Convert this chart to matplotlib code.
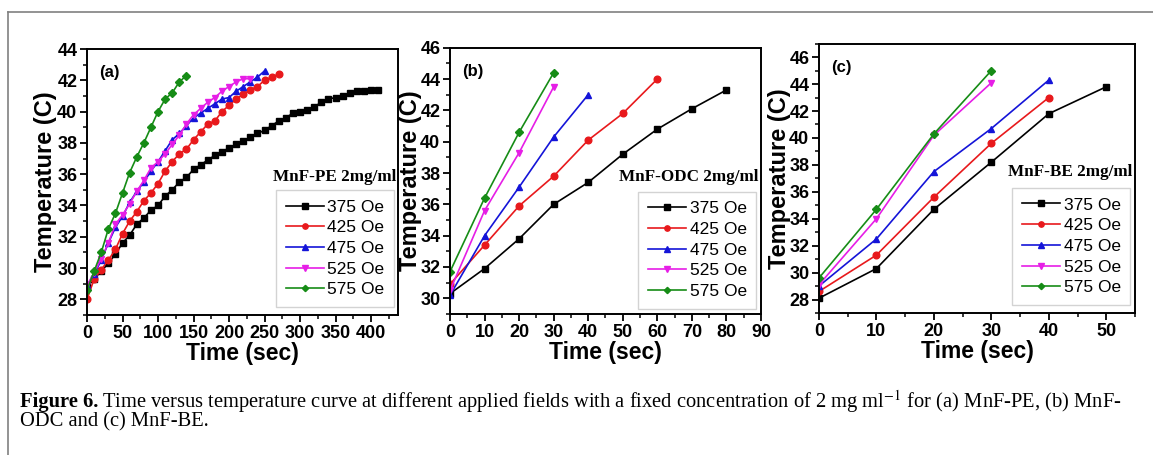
import numpy as np
import matplotlib
matplotlib.use('Agg')
import matplotlib.pyplot as plt
from matplotlib.ticker import MultipleLocator
from matplotlib.lines import Line2D

plt.rcParams['font.family'] = ['Liberation Sans', 'DejaVu Sans']
plt.rcParams['mathtext.fontset'] = 'stix'

fields = ['375 Oe', '425 Oe', '475 Oe', '525 Oe', '575 Oe']
colors = ['black', '#e8191c', '#1414d8', '#e61ee6', '#168c16']
markers = ['s', 'o', '^', 'v', 'D']

# (a) MnF-PE, 10 s steps
pe_375 = [28.8, 29.3, 29.8, 30.3, 30.9, 31.6, 32.1, 32.8, 33.2, 33.7, 34.0, 34.6, 35.0, 35.5,
          35.8, 36.3, 36.6, 36.9, 37.2, 37.4, 37.7, 37.9, 38.1, 38.4, 38.6, 38.8, 39.1, 39.4,
          39.6, 39.9, 40.0, 40.1, 40.3, 40.6, 40.8, 40.9, 41.0, 41.2, 41.3, 41.3, 41.4, 41.4]
pe_425 = [28.0, 29.3, 29.9, 30.5, 31.2, 32.2, 33.0, 33.6, 34.3, 34.8, 35.4, 36.2, 36.8, 37.3,
          37.6, 38.2, 38.7, 39.2, 39.4, 40.0, 40.4, 40.8, 41.1, 41.4, 41.6, 42.0, 42.2, 42.4]
pe_475 = [28.9, 29.6, 30.5, 31.6, 32.6, 33.3, 34.2, 34.9, 35.5, 36.2, 36.8, 37.5, 38.2, 38.6,
          39.1, 39.6, 39.9, 40.2, 40.5, 40.8, 40.9, 41.3, 41.6, 41.9, 42.2, 42.6]
pe_525 = [28.9, 29.7, 30.6, 31.6, 32.8, 33.4, 34.1, 34.9, 35.6, 36.4, 36.8, 37.3, 37.9, 38.5,
          39.2, 39.8, 40.2, 40.6, 40.9, 41.3, 41.6, 41.9, 42.1, 42.1]
pe_575 = [28.6, 29.8, 31.0, 32.5, 33.5, 34.8, 36.1, 37.1, 38.0, 39.0, 40.0, 40.8, 41.2, 41.9, 42.3]

# (b) MnF-ODC
odc_375 = [30.3, 31.9, 33.8, 36.0, 37.4, 39.2, 40.8, 42.1, 43.3]
odc_425 = [30.9, 33.4, 35.9, 37.8, 40.1, 41.8, 44.0]
odc_475 = [30.2, 34.0, 37.1, 40.3, 43.0]
odc_525 = [30.5, 35.6, 39.3, 43.5]
odc_575 = [31.7, 36.4, 40.6, 44.4]

# (c) MnF-BE
be_375 = [28.1, 30.3, 34.7, 38.2, 41.8, 43.8]
be_425 = [28.6, 31.3, 35.6, 39.6, 43.0]
be_475 = [29.0, 32.5, 37.5, 40.7, 44.3]
be_525 = [29.1, 34.0, 40.2, 44.1]
be_575 = [29.6, 34.7, 40.3, 45.0]

panels = [
    dict(data=[pe_375, pe_425, pe_475, pe_525, pe_575], label='(a)', title='MnF-PE 2mg/ml',
         pos=[0.0755, 0.3077, 0.2697, 0.5846], xlim=(0, 438), ylim=(27, 44),
         xmaj=50, xmin=25, ymaj=2, ymin=1, leg=(0.987, 0.03), ty=0.52, ylp=0),
    dict(data=[odc_375, odc_425, odc_475, odc_525, odc_575], label='(b)', title='MnF-ODC 2mg/ml',
         pos=[0.3903, 0.3099, 0.2697, 0.5853], xlim=(0, 90), ylim=(29, 46),
         xmaj=10, xmin=5, ymaj=2, ymin=1, leg=(0.985, 0.02), ty=0.515, ylp=-1),
    dict(data=[be_375, be_425, be_475, be_525, be_575], label='(c)', title='MnF-BE 2mg/ml',
         pos=[0.7103, 0.3121, 0.2741, 0.5919], xlim=(0, 55), ylim=(27, 47),
         xmaj=10, xmin=5, ymaj=2, ymin=1, leg=(0.985, 0.03), ty=0.525, ylp=-1),
]

fig = plt.figure(figsize=(11.53, 4.55), dpi=100)

# outer frame (left and top edges only)
fig.add_artist(Line2D([8/1153, 1], [1 - 12/455, 1 - 12/455], color='#808080', lw=1.2))
fig.add_artist(Line2D([8/1153, 8/1153], [0, 1 - 12/455], color='#808080', lw=1.2))

for p in panels:
    ax = fig.add_axes(p['pos'])
    for series, c, m, name in zip(p['data'], colors, markers, fields):
        t = np.arange(len(series)) * 10
        ax.plot(t, series, color=c, marker=m, markersize=4.8 if m != 'D' else 4.0,
                lw=1.2, label=name)
    ax.set_xlim(*p['xlim'])
    ax.set_ylim(*p['ylim'])
    ax.xaxis.set_major_locator(MultipleLocator(p['xmaj']))
    ax.xaxis.set_minor_locator(MultipleLocator(p['xmin']))
    ax.yaxis.set_minor_locator(MultipleLocator(p['ymin']))
    # lowest y tick one unit above the axis bottom
    ax.set_yticks(np.arange(p['ylim'][0] + 1, p['ylim'][1] + 0.1, p['ymaj']))
    ax.tick_params(which='major', direction='out', length=5, width=1.3, labelsize=13, pad=2)
    ax.tick_params(which='minor', direction='out', length=3, width=1.1)
    for lab in ax.get_xticklabels() + ax.get_yticklabels():
        lab.set_fontweight('bold')
    for s in ax.spines.values():
        s.set_linewidth(1.4)
    ax.set_xlabel('Time (sec)', fontsize=16.5, fontweight='bold', labelpad=0)
    ax.set_ylabel('Temperature (C)', fontsize=17, fontweight='bold', labelpad=p['ylp'])
    ax.text(0.04, 0.94, p['label'], transform=ax.transAxes, fontsize=12, fontweight='bold',
            va='top', ha='left')
    ax.text(p['leg'][0] + 0.008, p['ty'], p['title'], transform=ax.transAxes,
            family='Liberation Serif', fontsize=12.3, fontweight='bold', ha='right', va='center')
    leg = ax.legend(loc='lower right', bbox_to_anchor=p['leg'], borderaxespad=0,
                    fontsize=12.5, handlelength=2.2, handletextpad=0.2, labelspacing=0.32,
                    markerscale=0.8, frameon=True, fancybox=False, edgecolor='#c8c8c8',
                    borderpad=0.55)
    leg.get_frame().set_linewidth(1.0)

# caption
rend = fig.canvas.get_renderer()
cap_y1 = 1 - 402/455
cap_y2 = 1 - 422/455
x0 = 20/1153
b = fig.text(x0, cap_y1, 'Figure 6.', family='Liberation Serif', fontweight='bold',
             fontsize=14.8, va='center', ha='left')
bb = b.get_window_extent(renderer=rend)
fig.text(bb.x1/1153 + 0.003, cap_y1,
         'Time versus temperature curve at different applied fields with a fixed concentration '
         'of 2 mg ml$^{-1}$ for (a) MnF-PE, (b) MnF-',
         family='Liberation Serif', fontsize=14.8, va='center', ha='left')
fig.text(x0, cap_y2, 'ODC and (c) MnF-BE.', family='Liberation Serif', fontsize=14.8,
         va='center', ha='left')

fig.savefig('out.png', dpi=100)
